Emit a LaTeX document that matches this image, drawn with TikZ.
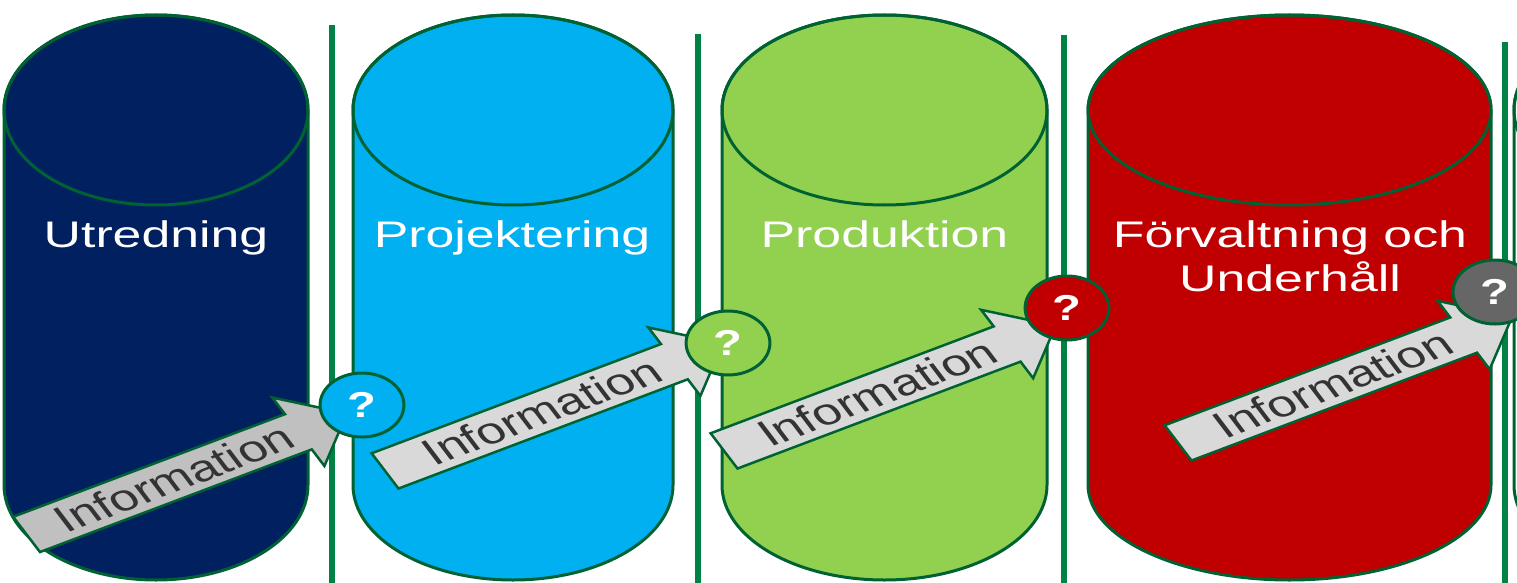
\documentclass[tikz,border=0pt]{standalone}
\usepackage{fontspec}
\setmainfont{Liberation Sans}
\usepackage{tikz}
\usetikzlibrary{shapes.arrows}
\usepackage{xcolor}
\definecolor{utred}{HTML}{002060}
\definecolor{projekt}{HTML}{00B0F0}
\definecolor{prod}{HTML}{92D050}
\definecolor{forv}{HTML}{C00000}
\definecolor{qgray}{HTML}{666666}
\definecolor{rim}{HTML}{006233}
\definecolor{divider}{HTML}{008245}
\definecolor{infofill}{HTML}{D9D9D9}
\definecolor{infodark}{HTML}{C0C0C0}
\definecolor{infotext}{HTML}{333333}

\begin{document}
\begin{tikzpicture}[x=1pt, y=-1pt,
  cyl/.style={draw=rim, line width=3pt},
  divline/.style={draw=divider, line width=6pt},
  phase/.style={text=white, font=\fontsize{37}{44}\selectfont, xscale=1.40, anchor=base, inner sep=0pt},
  info/.style={single arrow, draw=rim, line width=2.5pt, fill=infofill, text=infotext,
    font=\fontsize{37}{37}\selectfont, text height=31.5pt, text depth=6pt, inner ysep=0pt,
    single arrow head extend=18.8pt, single arrow tip angle=90, minimum width=0pt,
    anchor=tail, xscale=1.42, rotate=28.2},
  qmark/.style={circle, draw=rim, line width=3pt, minimum size=64pt, inner sep=0pt, xscale=1.31,
    text=white, font=\bfseries\fontsize{36}{36}\selectfont}]
  \useasboundingbox (0,0) rectangle (1517,583);
  \clip (0,0) rectangle (1517,583);

  % separators between the phases
  \foreach \x/\top in {332/25, 698/34, 1064/35, 1505/42}
    \draw[divline] (\x,\top) -- (\x,590);

  % the phase cylinders (the last one only peeks in at the right edge)
  \foreach \xl/\xr/\col in {4/308/utred, 353/673/projekt, 722/1047/prod, 1088/1491/forv, 1514/1834/white} {
    \pgfmathsetmacro\rx{(\xr-\xl)/2}
    \pgfmathsetmacro\xc{(\xr+\xl)/2}
    \path[cyl, fill=\col] (\xl,110) -- (\xl,485)
      arc[start angle=180, end angle=0, x radius=\rx, y radius=95] -- (\xr,110)
      arc[start angle=0, end angle=-180, x radius=\rx, y radius=95] -- cycle;
    \path[cyl] (\xc,110) ellipse[x radius=\rx, y radius=95];
  }

  \node[phase] (utredning) at (156,247) {Utredning};
  \node[phase] (projektering) at (512,247) {Projektering};
  \node[phase] (produktion) at (884.5,247) {Produktion};
  \node[phase] (forvaltning) at (1290,247) {Förvaltning och};
  \node[phase] (underhall) at (1290,291) {Underhåll};

  % information handed over to the next phase
  \node[info, fill=infodark, minimum height=256pt] (flow1) at (25,535) {Information};
  \node[info, minimum height=270pt] (flow2) at (383.5,471.5) {Information};
  \node[info, minimum height=265pt] (flow3) at (722.5,451.5) {Information};
  \node[info, minimum height=267pt] (flow4) at (1176.5,443.5) {Information};

  \node[qmark, fill=projekt] (q1) at (362,405) {?};
  \node[qmark, fill=prod] (q2) at (728,343) {?};
  \node[qmark, fill=forv] (q3) at (1067,308) {?};
  \node[qmark, fill=qgray] (q4) at (1495,292) {?};
\end{tikzpicture}
\end{document}
